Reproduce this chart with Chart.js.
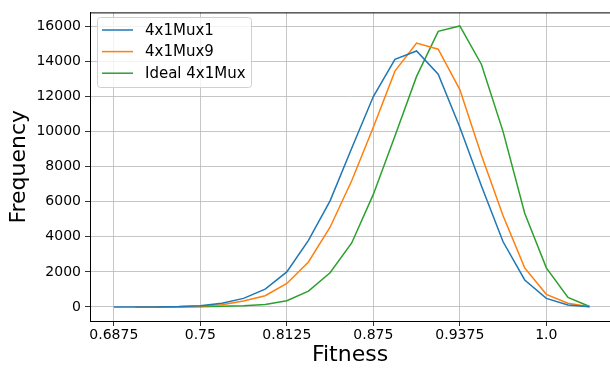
<!DOCTYPE html>
<html>
<head>
<meta charset="utf-8">
<script src="https://cdn.jsdelivr.net/npm/chart.js@4.4.1/dist/chart.umd.min.js"></script>
<style>
  html, body { margin: 0; padding: 0; background: #fff; overflow: hidden; }
  #chart { display: block; }
</style>
</head>
<body>
<canvas id="chart" width="610" height="368"></canvas>
<script>
/* ── data ── */
const fitnessBins = [0.6875, 0.703125, 0.71875, 0.734375, 0.75, 0.765625, 0.78125, 0.796875,
                     0.8125, 0.828125, 0.84375, 0.859375, 0.875, 0.890625, 0.90625, 0.921875,
                     0.9375, 0.953125, 0.96875, 0.984375, 1.0, 1.015625, 1.03125];

const mux1  = [0, 0, 5, 20, 75, 210, 490, 1020, 2000, 3800, 6050, 9050,
               12000, 14120, 14600, 13280, 10250, 6900, 3720, 1540, 490, 110, 15];
const mux9  = [null, 0, 3, 15, 50, 130, 340, 640, 1340, 2570, 4550, 7200,
               10250, 13450, 15050, 14700, 12400, 8650, 5200, 2230, 720, 210, 10];
const ideal = [null, null, 0, 5, 15, 40, 70, 140, 360, 900, 1950, 3650,
               6420, 9750, 13150, 15720, 16030, 13830, 10000, 5350, 2230, 550, 30];

const seriesNames  = ['4x1Mux1', '4x1Mux9', 'Ideal 4x1Mux'];
const seriesColors = ['#1f77b4', '#ff7f0e', '#2ca02c'];

const xTicks  = [0.6875, 0.75, 0.8125, 0.875, 0.9375, 1.0];
const xLabels = ['0.6875', '0.75', '0.8125', '0.875', '0.9375', '1.0'];
const yTicks  = [0, 2000, 4000, 6000, 8000, 10000, 12000, 14000, 16000];

const FONT = "'DejaVu Sans', sans-serif";

function toPoints(vals) {
  return fitnessBins.map((x, i) => ({ x, y: vals[i] }));
}

/* top spine (matplotlib frame) */
const topSpine = {
  id: 'topSpine',
  afterDraw(chart) {
    const { ctx, chartArea: a } = chart;
    ctx.save();
    ctx.strokeStyle = '#000';
    ctx.lineWidth = 1;
    ctx.beginPath();
    ctx.moveTo(a.left, a.top + 0.5);
    ctx.lineTo(a.right, a.top + 0.5);
    ctx.stroke();
    ctx.restore();
  }
};

/* legend box in the upper left corner */
const boxLegend = {
  id: 'boxLegend',
  afterDatasetsDraw(chart) {
    const ctx = chart.ctx;
    const x0 = 97.5, y0 = 17.5, w = 154, h = 70;
    ctx.save();
    ctx.beginPath();
    ctx.roundRect(x0, y0, w, h, 3);
    ctx.fillStyle = 'rgba(255,255,255,0.8)';
    ctx.fill();
    ctx.strokeStyle = '#d0d0d0';
    ctx.lineWidth = 1;
    ctx.stroke();
    ctx.font = '15px ' + FONT;
    ctx.textBaseline = 'middle';
    chart.data.datasets.forEach((ds, i) => {
      const y = 30 + i * 21.6;
      ctx.strokeStyle = ds.borderColor;
      ctx.lineWidth = 1.5;
      ctx.beginPath();
      ctx.moveTo(102, y);
      ctx.lineTo(133, y);
      ctx.stroke();
      ctx.fillStyle = '#000';
      ctx.fillText(ds.label, 145, y + 1);
    });
    ctx.restore();
  }
};

new Chart(document.getElementById('chart'), {
  type: 'line',
  data: {
    datasets: [mux1, mux9, ideal].map((vals, i) => ({
      label: seriesNames[i],
      data: toPoints(vals),
      borderColor: seriesColors[i],
      backgroundColor: seriesColors[i],
      borderWidth: 1.5,
      pointRadius: 0,
      tension: 0,
      spanGaps: false
    }))
  },
  options: {
    responsive: false,
    animation: false,
    devicePixelRatio: 1,
    layout: { padding: { top: 10, right: 0, left: 0, bottom: 0 } },
    plugins: { legend: { display: false }, tooltip: { enabled: false } },
    scales: {
      x: {
        type: 'linear',
        min: 0.6703,
        max: 1.046,
        afterBuildTicks: s => { s.ticks = xTicks.map(v => ({ value: v })); },
        afterFit: s => { s.height = 47; },
        ticks: {
          callback: v => xLabels[xTicks.indexOf(v)],
          font: { family: FONT, size: 14 },
          color: '#000',
          padding: 1,
          maxRotation: 0,
          autoSkip: false
        },
        grid: { color: '#b8b8b8', lineWidth: 0.8, tickLength: 5, tickColor: '#000' },
        border: { color: '#000', width: 1 },
        title: {
          display: true,
          text: 'Fitness',
          font: { family: FONT, size: 22 },
          color: '#000',
          padding: { top: 0, bottom: 0 }
        }
      },
      y: {
        min: -800,
        max: 16800,
        afterBuildTicks: s => { s.ticks = yTicks.map(v => ({ value: v })); },
        afterFit: s => { s.width = 90; },
        ticks: {
          callback: v => String(v),
          font: { family: FONT, size: 14 },
          color: '#000',
          padding: 4
        },
        grid: { color: '#b8b8b8', lineWidth: 0.8, tickLength: 5, tickColor: '#000' },
        border: { color: '#000', width: 1 },
        title: {
          display: true,
          text: 'Frequency',
          font: { family: FONT, size: 22 },
          color: '#000',
          padding: { top: 6, bottom: 0 }
        }
      }
    }
  },
  plugins: [topSpine, boxLegend]
});
</script>
</body>
</html>
